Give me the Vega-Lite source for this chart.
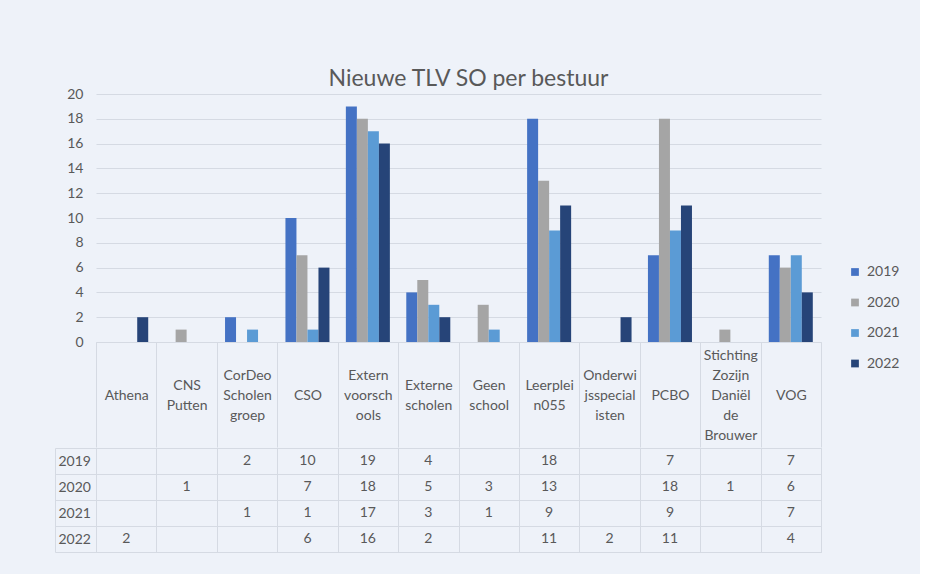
{
  "$schema": "https://vega.github.io/schema/vega-lite/v6.json",
  "background": "#EEF2F9",
  "padding": {"left": 54, "top": 68, "right": 20, "bottom": 22},
  "spacing": -12,
  "config": {
    "font": "Lato",
    "view": {"stroke": null},
    "axis": {"labelFont": "Lato", "labelColor": "#595959", "labelFontSize": 14, "gridColor": "#d5dae3", "tickColor": "#d5dae3", "domainColor": "#d5dae3", "title": null}
  },
  "datasets": {
    "tlv": [
      {"bestuur": "Athena", "jaar": "2022", "aantal": 2},
      {"bestuur": "CNS Putten", "jaar": "2020", "aantal": 1},
      {"bestuur": "CorDeo Scholengroep", "jaar": "2019", "aantal": 2},
      {"bestuur": "CorDeo Scholengroep", "jaar": "2021", "aantal": 1},
      {"bestuur": "CSO", "jaar": "2019", "aantal": 10},
      {"bestuur": "CSO", "jaar": "2020", "aantal": 7},
      {"bestuur": "CSO", "jaar": "2021", "aantal": 1},
      {"bestuur": "CSO", "jaar": "2022", "aantal": 6},
      {"bestuur": "Extern voorschools", "jaar": "2019", "aantal": 19},
      {"bestuur": "Extern voorschools", "jaar": "2020", "aantal": 18},
      {"bestuur": "Extern voorschools", "jaar": "2021", "aantal": 17},
      {"bestuur": "Extern voorschools", "jaar": "2022", "aantal": 16},
      {"bestuur": "Externe scholen", "jaar": "2019", "aantal": 4},
      {"bestuur": "Externe scholen", "jaar": "2020", "aantal": 5},
      {"bestuur": "Externe scholen", "jaar": "2021", "aantal": 3},
      {"bestuur": "Externe scholen", "jaar": "2022", "aantal": 2},
      {"bestuur": "Geen school", "jaar": "2020", "aantal": 3},
      {"bestuur": "Geen school", "jaar": "2021", "aantal": 1},
      {"bestuur": "Leerplein055", "jaar": "2019", "aantal": 18},
      {"bestuur": "Leerplein055", "jaar": "2020", "aantal": 13},
      {"bestuur": "Leerplein055", "jaar": "2021", "aantal": 9},
      {"bestuur": "Leerplein055", "jaar": "2022", "aantal": 11},
      {"bestuur": "Onderwijsspecialisten", "jaar": "2022", "aantal": 2},
      {"bestuur": "PCBO", "jaar": "2019", "aantal": 7},
      {"bestuur": "PCBO", "jaar": "2020", "aantal": 18},
      {"bestuur": "PCBO", "jaar": "2021", "aantal": 9},
      {"bestuur": "PCBO", "jaar": "2022", "aantal": 11},
      {"bestuur": "Stichting Zozijn Daniël de Brouwer", "jaar": "2020", "aantal": 1},
      {"bestuur": "VOG", "jaar": "2019", "aantal": 7},
      {"bestuur": "VOG", "jaar": "2020", "aantal": 6},
      {"bestuur": "VOG", "jaar": "2021", "aantal": 7},
      {"bestuur": "VOG", "jaar": "2022", "aantal": 4}
    ]
  },
  "resolve": {"scale": {"x": "independent", "y": "independent"}, "axis": {"x": "independent", "y": "independent"}},
  "vconcat": [
    {
      "data": {"name": "tlv"},
      "width": 725,
      "height": 248,
      "title": {"text": "Nieuwe TLV SO per bestuur", "fontSize": 23, "fontWeight": "normal", "color": "#595959", "font": "Lato", "anchor": "middle", "frame": "group", "offset": -4, "dx": 10},
      "mark": {"type": "bar"},
      "encoding": {
        "x": {
          "field": "bestuur", "type": "nominal", "sort": null,
          "scale": {"domain": ["Athena", "CNS Putten", "CorDeo Scholengroep", "CSO", "Extern voorschools", "Externe scholen", "Geen school", "Leerplein055", "Onderwijsspecialisten", "PCBO", "Stichting Zozijn Daniël de Brouwer", "VOG"], "paddingInner": 0, "paddingOuter": 0},
          "axis": {
            "orient": "bottom", "domain": true, "ticks": true, "tickBand": "extent", "tickSize": 105,
            "labelAngle": 0, "labelBaseline": "middle", "labelAlign": "center", "labelPadding": -92, "labelLineHeight": 10,
            "labelOverlap": false, "labelBound": false, "labelLimit": 0, "grid": false,
            "labelExpr": "datum.value == 'CNS Putten' ? ['\u2800', '\u2800', '\u2800', 'CNS', '\u2800', 'Putten'] : datum.value == 'CorDeo Scholengroep' ? ['\u2800', '\u2800', 'CorDeo', '\u2800', 'Scholen', '\u2800', 'groep'] : datum.value == 'Extern voorschools' ? ['\u2800', '\u2800', 'Extern', '\u2800', 'voorsch', '\u2800', 'ools'] : datum.value == 'Externe scholen' ? ['\u2800', '\u2800', '\u2800', 'Externe', '\u2800', 'scholen'] : datum.value == 'Geen school' ? ['\u2800', '\u2800', '\u2800', 'Geen', '\u2800', 'school'] : datum.value == 'Leerplein055' ? ['\u2800', '\u2800', '\u2800', 'Leerplei', '\u2800', 'n055'] : datum.value == 'Onderwijsspecialisten' ? ['\u2800', '\u2800', 'Onderwi', '\u2800', 'jsspecial', '\u2800', 'isten'] : datum.value == 'Stichting Zozijn Daniël de Brouwer' ? ['Stichting', '\u2800', 'Zozijn', '\u2800', 'Daniël', '\u2800', 'de', '\u2800', 'Brouwer'] : ['\u2800', '\u2800', '\u2800', '\u2800', datum.label]"
          }
        },
        "xOffset": {"field": "jaar", "type": "nominal", "scale": {"domain": ["2019", "2020", "2021", "2022"], "paddingInner": 0, "paddingOuter": 0.745}},
        "y": {
          "field": "aantal", "type": "quantitative",
          "scale": {"domain": [0, 20], "nice": false},
          "axis": {"values": [0, 2, 4, 6, 8, 10, 12, 14, 16, 18, 20], "domain": false, "ticks": false, "labelPadding": 13, "grid": true}
        },
        "color": {
          "field": "jaar", "type": "nominal",
          "scale": {"domain": ["2019", "2020", "2021", "2022"], "range": ["#4472C4", "#A5A5A5", "#5B9BD5", "#264478"]},
          "legend": {"title": null, "orient": "none", "legendX": 752, "legendY": 171, "padding": 0, "symbolType": "square", "symbolSize": 60, "symbolStrokeWidth": 0, "labelFontSize": 14, "labelColor": "#595959", "labelFont": "Lato", "rowPadding": 16.5, "labelOffset": 5}
        }
      }
    },
    {
      "data": {"name": "tlv"},
      "width": 725,
      "height": 104,
      "view": {"stroke": "#d5dae3"},
      "mark": {"type": "text", "fontSize": 14, "color": "#595959", "font": "Lato"},
      "encoding": {
        "x": {
          "field": "bestuur", "type": "nominal", "sort": null,
          "scale": {"domain": ["Athena", "CNS Putten", "CorDeo Scholengroep", "CSO", "Extern voorschools", "Externe scholen", "Geen school", "Leerplein055", "Onderwijsspecialisten", "PCBO", "Stichting Zozijn Daniël de Brouwer", "VOG"], "paddingInner": 0, "paddingOuter": 0},
          "axis": {"labels": false, "ticks": false, "domain": false, "grid": true, "tickBand": "extent"}
        },
        "y": {
          "field": "jaar", "type": "nominal", "sort": null,
          "scale": {"domain": ["2019", "2020", "2021", "2022"], "paddingInner": 0, "paddingOuter": 0},
          "axis": {"domain": true, "offset": 41, "ticks": true, "tickSize": -41, "tickBand": "extent", "grid": true, "labelAlign": "left", "labelPadding": 38, "labelBaseline": "middle"}
        },
        "text": {"field": "aantal", "type": "quantitative"}
      }
    }
  ]
}
